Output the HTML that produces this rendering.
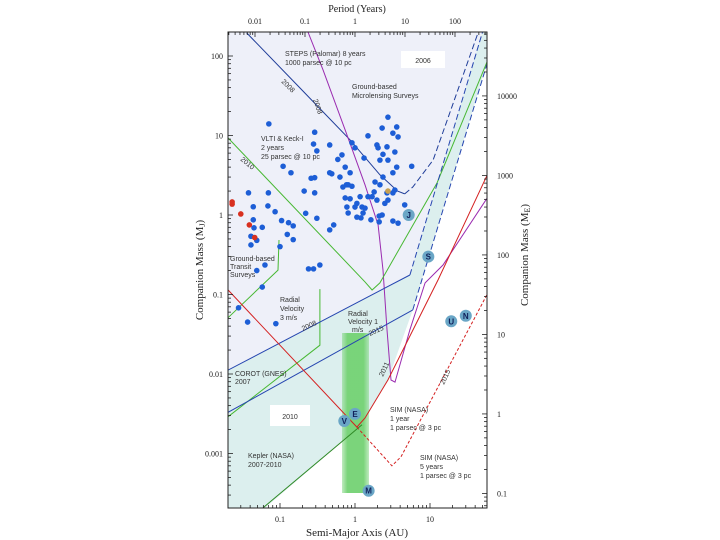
<!DOCTYPE html>
<html><head><meta charset="utf-8"><style>
html,body{margin:0;padding:0;background:#fff;}
svg{display:block;font-family:"Liberation Sans",sans-serif;}
.ax{font-family:"Liberation Serif",serif;fill:#222;}
.ann{font-size:7px;fill:#333;}
</style></head><body>
<svg id="chart" width="720" height="540" viewBox="0 0 720 540">
<defs>
<linearGradient id="gstripe" x1="0" x2="1" y1="0" y2="0">
<stop offset="0" stop-color="#7fd67f" stop-opacity="0.5"/>
<stop offset="0.2" stop-color="#74d274" stop-opacity="0.95"/>
<stop offset="0.8" stop-color="#74d274" stop-opacity="0.95"/>
<stop offset="1" stop-color="#7fd67f" stop-opacity="0.5"/>
</linearGradient>
<clipPath id="pclip"><rect x="228" y="32" width="259" height="476"/></clipPath>
</defs>
<g id="plot" clip-path="url(#pclip)"></g>
<g id="axes"></g>
</svg>
<script>
// ---- data (semi-major axis AU, companion mass MJ) ----
const planetAU = [0.071,0.29,0.28,0.31,0.46,0.11,0.14,0.038,0.07,0.044,0.044,0.045,0.041,0.049,0.041,0.058,0.069,0.086,0.105,0.13,0.15,0.125,0.15,0.22,0.31,0.1,0.21,0.29,0.29,0.26,0.46,0.49,0.63,0.77,0.86,0.69,0.81,0.91,0.74,0.86,0.78,0.81,1.06,1.17,1.0,1.24,1.28,1.2,1.06,1.36,1.49,1.69,1.63,2.1,2.1,2.3,1.96,1.8,2.15,1.85,2.36,2.5,2.75,2.67,3.2,3.4,2.15,2.36,2.03,1.96,2.67,2.75,2.3,2.75,3.2,3.6,3.75,3.4,3.6,3.2,1.32,1.49,1.0,0.91,0.67,0.74,0.59,5.7,4.6,3.2,3.75,0.46,0.52,0.24,0.28,0.34,0.063,0.049,0.058,0.028,0.037,0.088];
const planetMJ = [14,11,7.8,6.4,7.6,4.1,3.4,1.9,1.9,1.27,0.87,0.69,0.54,0.48,0.42,0.70,1.3,1.1,0.85,0.8,0.73,0.57,0.49,1.05,0.91,0.40,2.0,1.9,2.95,2.9,3.4,3.3,3.0,2.4,3.4,2.25,2.4,2.3,1.64,1.6,1.26,1.06,1.4,1.7,1.26,1.26,1.06,0.92,0.94,1.22,1.7,1.7,0.87,0.82,0.97,1.0,1.54,1.95,2.4,2.6,3.0,1.4,1.54,1.9,1.9,2.06,4.9,5.8,7.0,7.6,7.2,4.9,12.4,17,10.7,12.8,9.6,6.2,4.0,3.4,5.2,9.9,7.0,8.1,5.7,4.0,5.0,4.1,1.34,0.84,0.79,0.65,0.75,0.21,0.21,0.235,0.235,0.2,0.124,0.068,0.045,0.043];
const redAU = [0.023,0.023,0.030,0.039,0.046];
const redMJ = [1.46,1.37,1.03,0.75,0.52];
const goldAU = [2.75];
const goldMJ = [2.0];
const ssNames = ["J","S","U","N","E","V","M"];
const ssAU = [5.2,9.5,19.2,30,1,0.72,1.52];
const ssMJ = [1,0.3,0.046,0.054,0.00315,0.00256,0.00034];
// curves
const stepsAU = [0.036,0.185,0.86,2.15,3.7,4.6];
const stepsMJ = [195,39.6,8.8,3.2,2.0,1.84];
const stepsDashAU = [4.6,5.9,11,44];
const stepsDashMJ = [1.84,2.25,4.9,200];
const microAU = [0.236,0.374,0.74,1.36,2.03,2.36,2.67,3.02,3.41,5.4,8.6,14.9,59];
const microMJ = [200,67,11.7,2.4,0.75,0.203,0.036,0.0084,0.0079,0.036,0.14,0.235,1.68];
const vltiAU = [0.0203,1.36,1.69,2.15,12.4,59];
const vltiMJ = [9.3,0.144,0.114,0.14,2.53,89];
const transitAU = [0.0203,0.094,0.097];
const transitMJ = [0.051,0.203,0.485];
const corotAU = [0.0203,0.34,0.34];
const corotMJ = [0.0029,0.023,0.117];
const keplerAU = [0.059,1.24];
const keplerMJ = [0.000206,0.0023];
const rv3AU = [0.0203,5.4];
const rv3MJ = [0.0112,0.176];
const rv3DashAU = [5.4,51];
const rv3DashMJ = [0.176,212];
const rv1AU = [0.0203,5.9];
const rv1MJ = [0.0033,0.064];
const rv1DashAU = [5.9,58];
const rv1DashMJ = [0.064,82];
const sim1AU = [0.0203,1.06,1.36,2.75,12.8,58];
const sim1MJ = [0.114,0.00215,0.0028,0.0084,0.152,3.2];
const sim5AU = [1.06,3.1,4.1,59];
const sim5MJ = [0.00215,0.0007,0.00091,0.104];
const xTicks = [0.1,1,10];
const xTickLabels = ["0.1","1","10"];
const yTicks = [100,10,1,0.1,0.01,0.001];
const yTickLabels = ["100","10","1","0.1","0.01","0.001"];
const pTicks = [0.01,0.1,1,10,100];
const pTickLabels = ["0.01","0.1","1","10","100"];
const eTicks = [10000,1000,100,10,1,0.1];
const eTickLabels = ["10000","1000","100","10","1","0.1"];

// ---- axis functions ----
const X0=228,X1=487,Y0=32,Y1=508;
function xs(au){return 355+75*Math.log10(au);}
function ys(mj){return 215-79.5*Math.log10(mj);}
function xp(yr){return xs(Math.pow(yr,2/3));}
function ye(me){return ys(me/317.8);}
const NS="http://www.w3.org/2000/svg";
function mk(tag,attrs,parent){const e=document.createElementNS(NS,tag);for(const k in attrs)e.setAttribute(k,attrs[k]);parent.appendChild(e);return e;}
const plot=document.getElementById('plot'), axes=document.getElementById('axes');
function pts(a,m){return a.map((v,i)=>xs(v).toFixed(1)+","+ys(m[i]).toFixed(1)).join(" ");}

// background regions
let bg=mk('rect',{x:X0,y:Y0,width:X1-X0,height:Y1-Y0,fill:'#eef0f9'},plot);


let tl=mk('polygon',{points:`${X0},${ys(0.0112)} ${xs(5.4)},${ys(0.176)} ${xs(51)},${ys(212)} ${X1},${Y0} ${X1},${ys(82)} ${xs(5.9)},${ys(0.064)} ${xs(2.75)},${ys(0.0084)} ${xs(1.24)},${ys(0.0023)} 265,${Y1} ${X0},${Y1}`,fill:'#dcefee'},plot);


let wr=mk('polygon',{points:`${X1},${ys(82)} ${xs(5.9)},${ys(0.064)} ${xs(2.75)},${ys(0.0084)} ${xs(1.24)},${ys(0.0023)} 265,${Y1} ${X1},${Y1}`,fill:'#ffffff'},plot);


let st=mk('rect',{x:342,y:333,width:27,height:160,fill:'url(#gstripe)'},plot);



function line(a,m,color,name,dash,w){
  const p=mk('polyline',{points:pts(a,m),fill:'none',stroke:color,'stroke-width':w||1,'stroke-dasharray':dash||'none'},plot);
  
  
}
line(stepsAU,stepsMJ,'#1f3d99','steps-curve');
line(stepsDashAU,stepsDashMJ,'#1f3d99','steps-curve-dashed','6,3');
line(microAU,microMJ,'#9a2bb0','microlensing-curve');
line(vltiAU,vltiMJ,'#47b833','vlti-curve');
line(transitAU,transitMJ,'#47b833','transit-curve');
line(corotAU,corotMJ,'#47b833','corot-curve');
line(keplerAU,keplerMJ,'#2f8a26','kepler-curve');
line(rv3AU,rv3MJ,'#2545b0','rv-3ms-curve');
line(rv3DashAU,rv3DashMJ,'#2545b0','rv-3ms-dashed','6,3');
line(rv1AU,rv1MJ,'#2545b0','rv-1ms-curve');
line(rv1DashAU,rv1DashMJ,'#2545b0','rv-1ms-dashed','6,3');
line(sim1AU,sim1MJ,'#d42020','sim-1yr-curve');
line(sim5AU,sim5MJ,'#d42020','sim-5yr-curve','3,2');

// points
planetAU.forEach((a,i)=>{
  const c=mk('circle',{cx:xs(a),cy:ys(planetMJ[i]),r:2.8,fill:'#1d5ed6'},plot);
  
  
});
redAU.forEach((a,i)=>{
  const c=mk('circle',{cx:xs(a),cy:ys(redMJ[i]),r:2.8,fill:'#d83020'},plot);
  
  
});
goldAU.forEach((a,i)=>{
  const c=mk('circle',{cx:xs(a),cy:ys(goldMJ[i]),r:2.8,fill:'#c8a050'},plot);
  
  
});
ssAU.forEach((a,i)=>{
  const g=mk('g',{},plot);
  
  
  mk('circle',{cx:xs(a),cy:ys(ssMJ[i]),r:6,fill:'#6aa6c6'},g);
  const t=mk('text',{x:xs(a),y:ys(ssMJ[i])+3,'text-anchor':'middle','font-size':'8','font-weight':'bold',fill:'#10205a'},g);
  t.textContent=ssNames[i];
});

// text labels in plot
function txt(x,y,s,name,opt){
  const t=mk('text',Object.assign({x:x,y:y,class:'ann'},opt||{}),plot);
  t.textContent=s;
  
  
  return t;
}
let b1=mk('rect',{x:401,y:51,width:44,height:17,fill:'#fff'},plot);


txt(423,63,'2006','year-2006-label',{'text-anchor':'middle','font-size':'9'});
let b2=mk('rect',{x:270,y:405,width:40,height:21,fill:'#fff'},plot);


txt(290,419,'2010','year-2010-label',{'text-anchor':'middle','font-size':'9'});
const annots=[[285,56,'STEPS (Palomar) 8 years'],[285,65,'1000 parsec @ 10 pc'],[352,89,'Ground-based'],[352,98,'Microlensing Surveys'],
[261,141,'VLTI & Keck-I'],[261,150,'2 years'],[261,159,'25 parsec @ 10 pc'],[230,261,'Ground-based'],[230,269,'Transit'],[230,277,'Surveys'],
[280,302,'Radial'],[280,311,'Velocity'],[280,320,'3 m/s'],[348,316,'Radial'],[348,324,'Velocity 1'],[352,332,'m/s'],
[235,376,'COROT (GNES)'],[235,384,'2007'],[390,412,'SIM (NASA)'],[390,421,'1 year'],[390,430,'1 parsec @ 3 pc'],
[420,460,'SIM (NASA)'],[420,469,'5 years'],[420,478,'1 parsec @ 3 pc'],[248,458,'Kepler (NASA)'],[248,467,'2007-2010']];
annots.forEach(a=>txt(a[0],a[1],a[2],'annotation-text'));
const rot=[[281,82,'2008',45],[313,100,'2008',70],[240,160,'2010',40],[303,331,'2008',-25],[370,336,'2015',-25],[383,377,'2011',-65],[444,385,'2015',-65]];
rot.forEach(r=>txt(r[0],r[1],r[2],'curve-year-label',{transform:`rotate(${r[3]} ${r[0]} ${r[1]})`,'font-size':'7'}));

// axes
let fr=mk('rect',{x:X0,y:Y0,width:X1-X0,height:Y1-Y0,fill:'none',stroke:'#222','stroke-width':1},axes);


function tick(x1,y1,x2,y2){mk('line',{x1,y1,x2,y2,stroke:'#222','stroke-width':0.8},axes);}
function atext(x,y,s,name,anchor,size){const t=mk('text',{x,y,'text-anchor':anchor,'font-size':size||8,class:'ax'},axes);t.textContent=s;return t;}
for(let d=-2;d<=1;d++)for(let k=1;k<10;k++){const x=xs(k*Math.pow(10,d));if(x<X0||x>X1)continue;const L=k==1?5:3;tick(x,Y1,x,Y1-L);}
for(let d=-4;d<=2;d++)for(let k=1;k<10;k++){const y=ys(k*Math.pow(10,d));if(y<Y0||y>Y1)continue;const L=k==1?5:3;tick(X0,y,X0+L,y);}
for(let d=-3;d<=2;d++)for(let k=1;k<10;k++){const x=xp(k*Math.pow(10,d));if(x<X0||x>X1)continue;const L=k==1?5:3;tick(x,Y0,x,Y0+L);}
for(let d=-2;d<=4;d++)for(let k=1;k<10;k++){const y=ye(k*Math.pow(10,d));if(y<Y0||y>Y1)continue;const L=k==1?5:3;tick(X1,y,X1-L,y);}
xTicks.forEach((v,i)=>atext(xs(v),522,xTickLabels[i],'x-tick-label','middle'));
yTicks.forEach((v,i)=>atext(223,ys(v)+3,yTickLabels[i],'y-tick-label','end'));
pTicks.forEach((v,i)=>atext(xp(v),24,pTickLabels[i],'period-tick-label','middle'));
eTicks.forEach((v,i)=>atext(497,ye(v)+3,eTickLabels[i],'earth-mass-tick-label','start'));
atext(357,536,'Semi-Major Axis (AU)','x-axis-title','middle',11);
atext(357,12,'Period (Years)','top-axis-title','middle',10);
let yt=atext(203,270,'','y-axis-title','middle',11);
yt.setAttribute('transform','rotate(-90 203 270)');
yt.innerHTML='Companion Mass (M<tspan font-size="8" dy="2">J</tspan><tspan dy="-2">)</tspan>';
let et=atext(528,255,'','right-axis-title','middle',11);
et.setAttribute('transform','rotate(-90 528 255)');
et.innerHTML='Companion Mass (M<tspan font-size="8" dy="2">E</tspan><tspan dy="-2">)</tspan>';
</script>
</body></html>
